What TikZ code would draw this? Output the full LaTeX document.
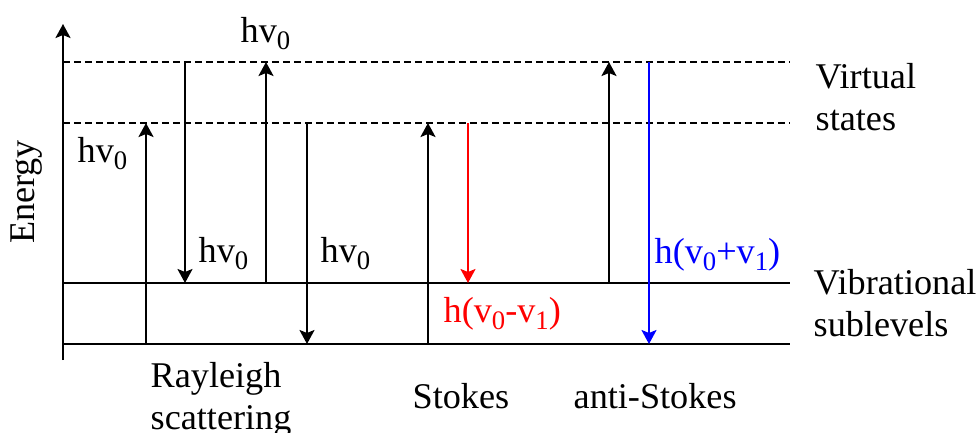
\documentclass[tikz,border=0pt]{standalone}
\usepackage{fontspec}
\setmainfont{Liberation Serif}
\usetikzlibrary{arrows.meta}

\newcommand\lowsub[1]{\raisebox{-2.2pt}{\fontsize{7.6}{8}\selectfont #1}}

\tikzset{
  level/.style={line width=0.6pt},
  virtual/.style={line width=0.6pt, dash pattern=on 0.7mm off 0.4mm},
  photon/.style={line width=0.6pt, -{Stealth[length=1.4mm,width=1.5mm,inset=0.3mm]}},
  lbl/.style={inner sep=0pt, anchor=base west},
}

\begin{document}
\begin{tikzpicture}[font=\rmfamily\fontsize{10.3}{11.8}\selectfont]%,>=latex]
\useasboundingbox (0,0) rectangle (9.80,4.32);

% energy axis
\coordinate (O) at (0.63,0.72);
\coordinate (T) at (0.63,4.08);
\draw[photon] (O) -- (T);
\node [rotate=90] (energy) at (0.27,2.40) {Energy};

% levels
\coordinate (G0) at (0.63,0.88);
\coordinate (G1) at (0.63,1.49);
\coordinate (V1) at (0.63,3.09);
\coordinate (V2) at (0.63,3.70);
\coordinate (E) at (7.90,0cm);
\draw[level] (G0) -- (E |- G0);
\draw[level] (G1) -- (E |- G1);
\draw[virtual] (V1) -- (E |- V1);
\draw[virtual] (V2) -- (E |- V2);

% transitions
\coordinate (R1) at (1.46,0);
\coordinate (R2) at (1.85,0);
\coordinate (R3) at (2.66,0);
\coordinate (R4) at (3.07,0);
\coordinate (S1) at (4.28,0);
\coordinate (S2) at (4.68,0);
\coordinate (A1) at (6.09,0);
\coordinate (A2) at (6.49,0);

\draw[photon] (R1 |- G0) -- (R1 |- V1);
\draw[photon] (R2 |- V2) -- (R2 |- G1);
\draw[photon] (R3 |- G1) -- (R3 |- V2);
\draw[photon] (R4 |- V1) -- (R4 |- G0);
\draw[photon] (S1 |- G0) -- (S1 |- V1);
\draw[photon,red] (S2 |- V1) -- (S2 |- G1);
\draw[photon] (A1 |- G1) -- (A1 |- V2);
\draw[photon,blue] (A2 |- V2) -- (A2 |- G0);

% labels
\node [lbl] (h1) at (0.77,2.70) {hv\lowsub{0}};
\node [lbl] (h2) at (2.40,3.90) {hv\lowsub{0}};
\node [lbl] (h3) at (1.98,1.70) {hv\lowsub{0}};
\node [lbl] (h4) at (3.20,1.70) {hv\lowsub{0}};
\node [lbl,red] (hs) at (4.43,1.10) {h(v\lowsub{0}-v\lowsub{1})};
\node [lbl,blue] (ha) at (6.54,1.69) {h(v\lowsub{0}+v\lowsub{1})};

\node [inner sep=0pt, anchor=north west, align=left] (virt) at (8.15,3.69) {Virtual\\states};
\node [inner sep=0pt, anchor=north west, align=left] (vib) at (8.13,1.63) {Vibrational\\sublevels};
\node [inner sep=0pt, anchor=north west, align=left] (ray) at (1.50,0.70) {Rayleigh\\scattering};
\node [lbl] (stokes) at (4.12,0.24) {Stokes};
\node [lbl] (anti) at (5.73,0.24) {anti-Stokes};

\end{tikzpicture}
\end{document}
